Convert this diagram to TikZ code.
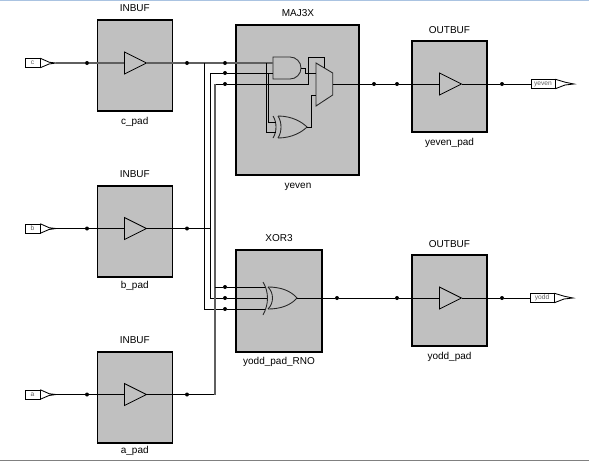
\documentclass[tikz,border=0pt]{standalone}
\usepackage{fontspec}
\setmainfont{Liberation Sans}
\usetikzlibrary{shapes.geometric, positioning}
\definecolor{cellgray}{RGB}{192, 192, 192}
\definecolor{wiregray}{RGB}{95, 95, 95}
\definecolor{topblue}{RGB}{170, 195, 225}

\begin{document}
\begin{tikzpicture}[
    x=0.75pt, y=-0.75pt,
    cell/.style={draw, line width=0.9pt, fill=cellgray, inner sep=0pt},
    bufcell/.style={cell, minimum width=56.25pt, minimum height=68.25pt},
    caption/.style={font=\fontsize{7.5}{9}\selectfont, inner sep=0pt},
    buffer/.style={draw, isosceles triangle, isosceles triangle stretches, inner sep=0pt, anchor=west, minimum width=16.5pt, minimum height=16.5pt, line width=0.6pt},
    joint/.style={circle, fill=black, inner sep=0pt, minimum size=3pt},
    portbox/.style={draw, inner sep=0pt, minimum height=6.6pt, line width=0.5pt, text=wiregray, font=\fontsize{5}{5}\selectfont},
    wire/.style={line width=0.65pt},
    wirebold/.style={line width=0.9pt, draw=wiregray},
    gate/.style={line width=0.65pt, draw=black!85}
]
    \useasboundingbox (0,0) rectangle (589,461);
    \draw[topblue, line width=0.75pt] (0,0.5) -- (589,0.5);
    \draw[gray, line width=0.75pt] (0,460.5) -- (589,460.5);

    % cells
    \node[bufcell] (cpad) at (134.75,65.5) {};
    \node[bufcell] (bpad) at (134.75,231.5) {};
    \node[bufcell] (apad) at (134.75,397.5) {};
    \node[cell, minimum width=92.25pt, minimum height=112.5pt] (yeven) at (297.5,100) {};
    \node[cell, minimum width=64.5pt, minimum height=76.5pt] (yoddrno) at (279,301) {};
    \node[bufcell] (yevenpad) at (449.5,86.5) {};
    \node[bufcell] (yoddpad) at (449.5,300.5) {};

    \node[caption] (cpadtop) at (134.75,8) {INBUF};
    \node[caption] (cpadname) at (134.75,122) {c\_pad};
    \node[caption] (bpadtop) at (134.75,174) {INBUF};
    \node[caption] (bpadname) at (134.75,286) {b\_pad};
    \node[caption] (apadtop) at (134.75,340) {INBUF};
    \node[caption] (apadname) at (134.75,451) {a\_pad};
    \node[caption] (yeventop) at (298,13) {MAJ3X};
    \node[caption] (yevenname) at (298,187) {yeven};
    \node[caption] (yoddrnotop) at (279,238) {XOR3};
    \node[caption] (yoddrnoname) at (279,362) {yodd\_pad\_RNO};
    \node[caption] (yevenpadtop) at (449.5,30) {OUTBUF};
    \node[caption] (yevenpadname) at (449.5,143) {yeven\_pad};
    \node[caption] (yoddpadtop) at (449.5,244) {OUTBUF};
    \node[caption] (yoddpadname) at (449.5,357) {yodd\_pad};

    % buffers
    \node[buffer] (cbuf) at (124,63) {};
    \node[buffer] (bbuf) at (124,228.5) {};
    \node[buffer] (abuf) at (124,394.5) {};
    \node[buffer] (yevenbuf) at (439,84) {};
    \node[buffer] (yoddbuf) at (439,298) {};

    % ports
    \node[portbox, minimum width=11.25pt] (cport) at (32.5,63) {c};
    \node[portbox, minimum width=11.25pt] (bport) at (32.5,228.5) {b};
    \node[portbox, minimum width=11.25pt] (aport) at (32.5,394.5) {a};
    \node[portbox, minimum width=18pt] (yevenport) at (543,84) {yeven};
    \node[portbox, minimum width=18pt] (yoddport) at (542,298) {yodd};
    \coordinate (ctip) at (56,63);
    \coordinate (btip) at (56,228.5);
    \coordinate (atip) at (56,394.5);
    \coordinate (yeventip) at (574,84);
    \coordinate (yoddtip) at (573,298);
    \draw[wire] (cport.north east) -- ++(9,4) -- (ctip) -- ++(-7,1) -- (cport.south east);
    \draw[wire] (bport.north east) -- ++(9,4) -- (btip) -- ++(-7,1) -- (bport.south east);
    \draw[wire] (aport.north east) -- ++(9,4) -- (atip) -- ++(-7,1) -- (aport.south east);
    \draw[wire] (yevenport.north east) -- ++(10,3) -- (yeventip) -- ++(-9,1) -- (yevenport.south east);
    \draw[wire] (yoddport.north east) -- ++(10,3) -- (yoddtip) -- ++(-9,1) -- (yoddport.south east);

    % joints
    \node[joint] (cin) at (87,63) {};
    \node[joint] (bin) at (87,228.5) {};
    \node[joint] (ain) at (87,394.5) {};
    \node[joint] (cout) at (187,63) {};
    \node[joint] (bout) at (187,228.5) {};
    \node[joint] (aout) at (187,394.5) {};
    \node[joint] (maja) at (225,63) {};
    \node[joint] (majb) at (225,73) {};
    \node[joint] (majc) at (225,84) {};
    \node[joint] (xora) at (225,287) {};
    \node[joint] (xorb) at (225,298) {};
    \node[joint] (xorc) at (225,309) {};
    \node[joint] (majout) at (374,84) {};
    \node[joint] (majnext) at (397,84) {};
    \node[joint] (xorout) at (337,298) {};
    \node[joint] (xornext) at (397,298) {};
    \node[joint] (yevenjoint) at (502,84) {};
    \node[joint] (yoddjoint) at (502,298) {};

    % gate shapes in MAJ3X
    \coordinate (andtop) at (273,57);
    \coordinate (andbot) at (273,79);
    \coordinate (andout) at (301,68);
    \coordinate (andb) at (273,73);
    \coordinate (anda) at (273,63);
    \coordinate (muxzero) at (316,73);
    \coordinate (muxone) at (316,95);
    \coordinate (muxsel) at (324.7,68);
    \coordinate (muxout) at (332.7,84);
    \coordinate (xxora) at (276,122);
    \coordinate (xxorb) at (276,132);
    \coordinate (xxorout) at (307,127);
    \draw[gate] (andtop) -- (290,57) arc[start angle=-90, end angle=90, radius=11] -- (andbot) -- cycle;
    \draw[gate] (316,63) -- (332.7,73) -- (332.7,95) -- (316,106) -- cycle;
    \draw[gate] (273,116) .. controls (277,122) and (277,132) .. (273,138);
    \draw[gate] (278,116) .. controls (282,122) and (282,132) .. (278,138);
    \draw[gate] (278,116) .. controls (292,116) and (302,122) .. (xxorout) .. controls (302,132) and (292,138) .. (278,138);

    % gate shape in XOR3
    \coordinate (xor3a) at (265,287);
    \coordinate (xor3b) at (267,298);
    \coordinate (xor3c) at (265,309);
    \coordinate (xor3out) at (297,298);
    \draw[gate] (263,282) .. controls (269,292) and (269,304) .. (263,315);
    \draw[gate] (268,287) .. controls (274,293) and (274,303) .. (268,309);
    \draw[gate] (268,287) .. controls (281,287) and (291,291) .. (xor3out) .. controls (291,305) and (281,309) .. (268,309);

    % bus corners
    \coordinate (cturn) at (204,63);
    \coordinate (bturn) at (210,73);
    \coordinate (aturn) at (215,84);

    % connectors
    \draw[wirebold] (ctip) -- (cin) -- (cbuf.west);
    \draw[wire] (btip) -- (bin) -- (bbuf.west);
    \draw[wire] (atip) -- (ain) -- (abuf.west);
    \draw[wirebold] (cbuf.apex) -- (cout) -- (cturn) -- (maja) -- (anda);
    \draw[wire] (bbuf.apex) -- (bout) -- (bout -| bturn);
    \draw[wire] (abuf.apex) -- (aout) -- (aout -| aturn);
    \draw[wire] (cturn) |- (xorc) -- (xor3c);
    \draw[wire] (bturn) -- (majb) -- (andb);
    \draw[wire] (bturn) |- (xorb) -- (xor3b);
    \draw[wire] (aturn) -- (majc) -- (308,84) |- (muxsel |- andtop) -- (muxsel);
    \draw[wirebold] (aout -| aturn) -- (aturn);
    \draw[wire] (xora -| aturn) -- (xora) -- (xor3a);
    \draw[wire] (andout) -- (305.5,68) |- (muxzero);
    \draw[wire] (xxorout) -- (311,127) |- (muxone);
    \draw[wire] (268,73) |- (xxora);
    \draw[wire] (266,63) |- (xxorb);
    \draw[wire] (muxout) -- (majout) -- (majnext) -- (yevenbuf.west);
    \draw[wire] (yevenbuf.apex) -- (yevenjoint) -- (yevenport.west);
    \draw[wire] (xor3out) -- (xorout) -- (xornext) -- (yoddbuf.west);
    \draw[wire] (yoddbuf.apex) -- (yoddjoint) -- (yoddport.west);
\end{tikzpicture}
\end{document}
